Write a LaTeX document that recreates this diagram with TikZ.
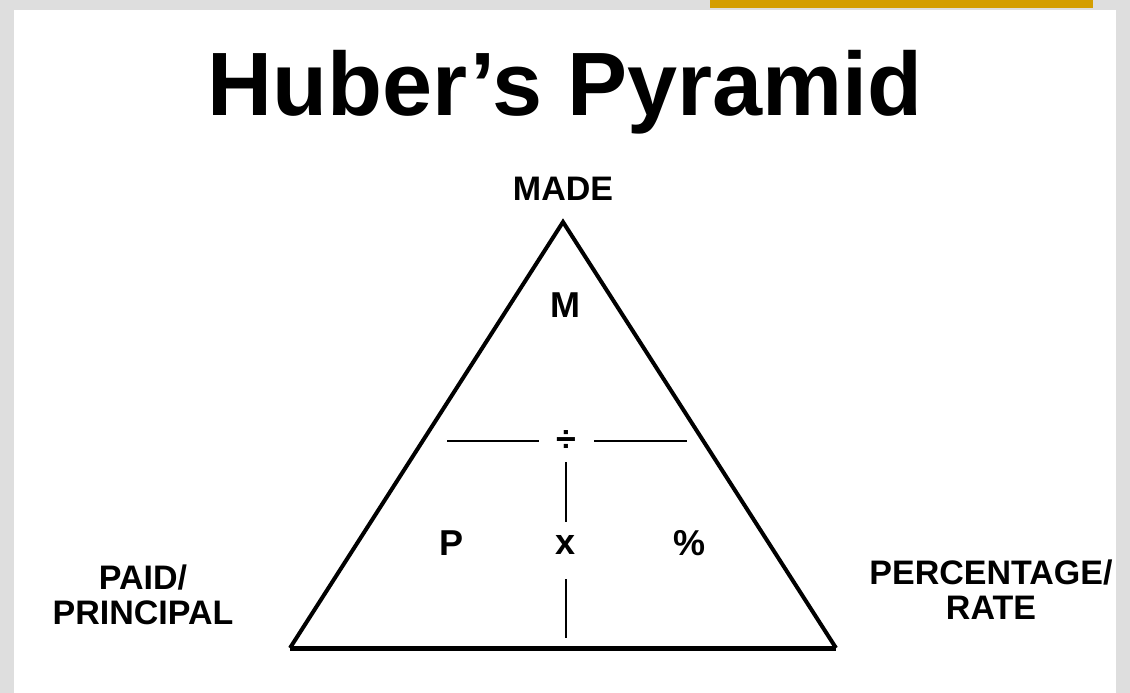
\documentclass[tikz,border=0pt]{standalone}
\usepackage{fontspec}
\setmainfont{Liberation Sans}
\definecolor{gold}{RGB}{212,158,0}
\definecolor{paper}{RGB}{222,222,222}
\begin{document}
\begin{tikzpicture}[x=1pt,y=-1pt,line join=miter]
  \tikzstyle{lbl}=[font=\fontsize{34}{35}\selectfont\bfseries, inner sep=0pt, align=center]
  \tikzstyle{sym}=[font=\fontsize{36}{38}\selectfont\bfseries, inner sep=0pt]
  \tikzstyle{thin}=[line width=2pt]

  % frame
  \fill[paper] (0,0) rectangle (1130,693);
  \fill[white] (14,10) rectangle (1116,693);
  \fill[gold] (710,0) rectangle (1093,8);
  \useasboundingbox (0,0) rectangle (1130,693);

  \node[font=\fontsize{90}{90}\selectfont\bfseries, inner sep=0pt] (title) at (565,92) {Huber’s Pyramid};

  \coordinate (top) at (563,222);
  \coordinate (bl) at (290,648);
  \coordinate (br) at (836,648);
  \draw[line width=4pt] (bl) -- (top) -- (br);
  \draw[line width=5pt] (bl) -- (br);

  \node[lbl] (made) at (563,189) {MADE};
  \node[lbl] (paid) at (143,595) {PAID/\\PRINCIPAL};
  \node[lbl] (pct) at (991,590) {PERCENTAGE/\\RATE};

  \node[sym] (m) at (565,305) {M};
  \node[sym] (div) at (566,441) {÷};
  \node[sym] (p) at (452,543) {P};
  \node[sym] (x) at (566,545) {x};
  \node[sym] (pc) at (689,543) {\%};

  \coordinate (hl) at (447,441);
  \coordinate (hr) at (687,441);
  \coordinate (vb) at (566,638);
  \draw[thin] (hl) -- (539,441);
  \draw[thin] (594,441) -- (hr);
  \draw[thin] (566,462) -- (566,522);
  \draw[thin] (566,579) -- (vb);
\end{tikzpicture}
\end{document}
